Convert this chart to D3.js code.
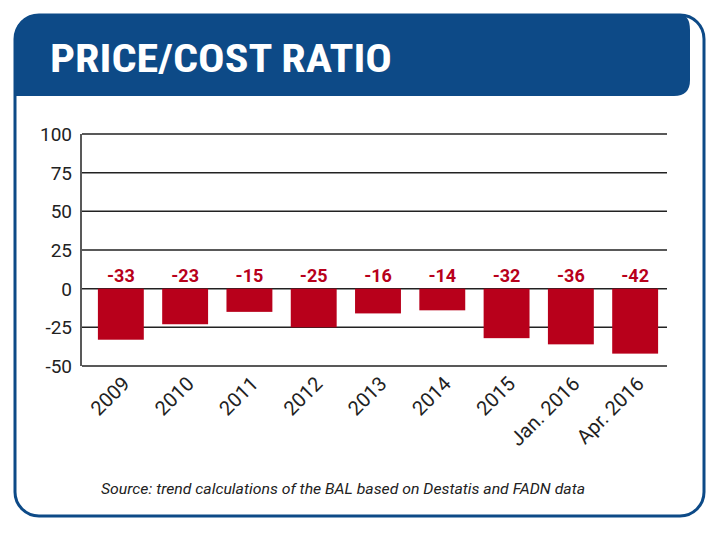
<!DOCTYPE html><html><head><meta charset="utf-8"><script src="https://cdn.jsdelivr.net/npm/d3@7"></script>
<style>body{margin:0;background:#fff}</style></head><body><svg id="c" width="720" height="538"></svg>
<script>
const categories=["2009","2010","2011","2012","2013","2014","2015","Jan. 2016","Apr. 2016"];
const values=[-33,-23,-15,-25,-16,-14,-32,-36,-42];
const yTicks=[100,75,50,25,0,-25,-50];
const svg=d3.select("#c");
const blue="#0d4a87", red="#b8001b";
svg.append("rect").attr("x",15).attr("y",15).attr("width",689).attr("height",501).attr("rx",24)
 .attr("fill","#fff").attr("stroke",blue).attr("stroke-width",3);
svg.append("path").attr("d","M15,96 L15,39 Q15,15 39,15 L680,15 Q690,15 690,30 L690,80 Q690,96 674,96 Z")
 .attr("fill",blue);
svg.append("text").attr("x",50).attr("y",72).text("PRICE/COST RATIO").attr("fill","#fff")
 .attr("font-family","Roboto Condensed, Roboto, sans-serif").attr("font-weight","bold").attr("font-size",38)
 .attr("textLength",342).attr("lengthAdjust","spacingAndGlyphs");
const x=d3.scaleBand().domain(categories).range([86,670]).paddingInner(0.286).paddingOuter(0.185);
const y=d3.scaleLinear().domain([-50,100]).range([366,134]);
const g=svg.append("g");
g.selectAll(".grid").data(yTicks).join("line").attr("x1",82).attr("x2",667)
 .attr("y1",d=>y(d)).attr("y2",d=>y(d)).attr("stroke","#222").attr("stroke-width",1.5);
g.append("line").attr("x1",81).attr("x2",81).attr("y1",y(100)).attr("y2",y(-50)).attr("stroke","#222").attr("stroke-width",1.5);
g.selectAll(".yl").data(yTicks).join("text").attr("x",72).attr("y",d=>y(d)+7).attr("text-anchor","end")
 .text(d=>d).attr("font-family","Roboto, sans-serif").attr("font-size",19).attr("fill","#222");
g.selectAll(".bar").data(values).join("rect").attr("x",(d,i)=>x(categories[i])).attr("width",x.bandwidth())
 .attr("y",y(0)).attr("height",d=>y(d)-y(0)).attr("fill",red);
g.selectAll(".vl").data(values).join("text").attr("x",(d,i)=>x(categories[i])+x.bandwidth()/2).attr("y",282)
 .attr("text-anchor","middle").text(d=>d).attr("fill",red).attr("font-family","Roboto, sans-serif")
 .attr("font-weight","bold").attr("font-size",18);
g.selectAll(".xl").data(categories).join("text")
 .attr("transform",d=>`translate(${x(d)+x.bandwidth()/2+10},${385}) rotate(-45)`)
 .attr("text-anchor","end").text(d=>d).attr("font-family","Roboto, sans-serif").attr("font-size",20).attr("fill","#222");
svg.append("text").attr("x",101).attr("y",494).text("Source: trend calculations of the BAL based on Destatis and FADN data")
 .attr("font-family","Roboto, sans-serif").attr("font-style","italic").attr("font-size",15).attr("fill","#222")
 .attr("textLength",484).attr("lengthAdjust","spacingAndGlyphs");
</script></body></html>
